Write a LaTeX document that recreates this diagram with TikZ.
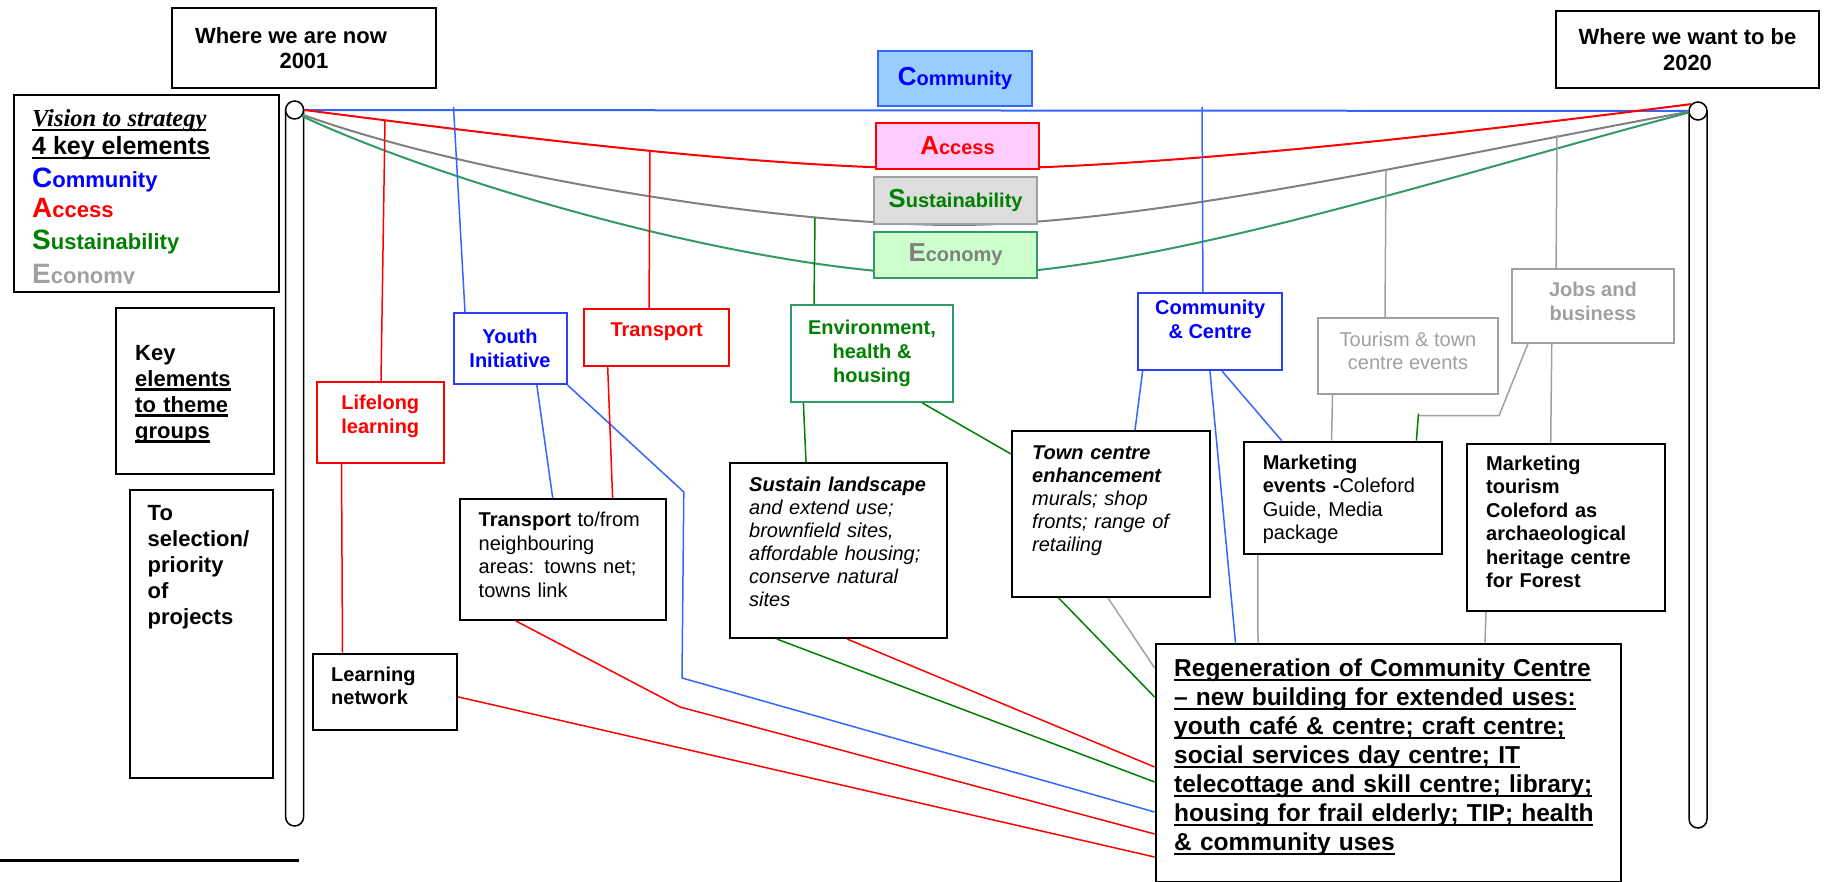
\documentclass[tikz,border=0pt]{standalone}
\usepackage{fontspec}
\setmainfont{Liberation Sans}
\newfontfamily\timesfont{Liberation Serif}
\definecolor{lblue}{HTML}{3366FF}
\definecolor{tblue}{HTML}{0000FF}
\definecolor{bblue}{HTML}{2A3FFF}
\definecolor{tred}{HTML}{FF0000}
\definecolor{tgreen}{HTML}{008000}
\definecolor{cgreen}{HTML}{339966}
\definecolor{cgray}{HTML}{808080}
\definecolor{lgray}{HTML}{A0A0A0}
\definecolor{fblue}{HTML}{99CCFF}
\definecolor{fpink}{HTML}{FFCCFF}
\definecolor{fgray}{HTML}{DDDDDD}
\definecolor{fgreen}{HTML}{CCFFCC}
\newcommand{\bigini}[2]{{\fontsize{#1}{#1}\selectfont #2}}
\newlength{\ulw}
\newcommand{\uln}[1]{\leavevmode\settowidth{\ulw}{#1}\rlap{#1}\rule[-4.5pt]{\ulw}{2.2pt}}

\begin{document}
\begin{tikzpicture}[x=1pt, y=-1pt,
  frame/.style 2 args={draw, line width=2pt, fill=white, anchor=north west, inner sep=0pt, minimum width=#1pt, minimum height=#2pt},
  theme/.style 2 args={draw, line width=2pt, fill=white, align=center, inner sep=0pt, minimum width=#1pt, minimum height=#2pt, font=\bfseries\fontsize{20}{24}\selectfont},
  txt/.style={anchor=base west, align=left, inner sep=0pt, text width=#1pt},
  post/.style={circle, draw, fill=white, line width=1.5pt, minimum size=18pt, inner sep=0pt},
  redln/.style={tred, line width=1.5pt},
  blueln/.style={lblue, line width=1.5pt},
  greenln/.style={tgreen, line width=1.5pt},
  grayln/.style={lgray, line width=1.5pt}]
\useasboundingbox (0,0) rectangle (1825,882);
% posts
\draw[line width=1.5pt, rounded corners=9pt] (285.6,110) -- (285.6,826) -- (303.6,826) -- (303.6,110);
\draw[line width=1.5pt, rounded corners=9pt] (1689,111) -- (1689,828) -- (1707,828) -- (1707,111);
\node[post] (lpost) at (294.6,110) {};
\node[post] (rpost) at (1698,111) {};
% ropes
\draw[blueln, line width=2pt] (lpost.east) -- (rpost.west);
\draw[redln, line width=2pt] (lpost.east) .. controls (500,135) and (760,169) .. (958,169) .. controls (1150,169) and (1450,135) .. (rpost.135);
\draw[cgray, line width=2pt] (lpost.-30) .. controls (470,175) and (780,225) .. (955,225) .. controls (1150,225) and (1450,155) .. (rpost.185);
\draw[cgreen, line width=2pt] (lpost.-40) .. controls (450,185) and (760,275) .. (955,275) .. controls (1150,275) and (1450,175) .. (rpost.190);
% top boxes
\node[frame={264}{80}, align=center, font=\bfseries\fontsize{22}{25}\selectfont] (now) at (171,7) {Where we are now\hspace*{26pt}\\2001};
\node[frame={263}{77}, align=center, font=\bfseries\fontsize{22}{26}\selectfont] (want) at (1555,10) {Where we want to be\\2020};
% legend
\node[frame={265}{197}] (legend) at (13,94) {};
\begin{scope}
\clip (legend.north west) rectangle ([yshift=9pt]legend.south east);
\node[anchor=base west, inner sep=0pt, font=\timesfont\bfseries\itshape\fontsize{24.5}{25}\selectfont] (leg-a) at (32,127) {\uln{Vision to strategy}};
\node[anchor=base west, inner sep=0pt, font=\bfseries\fontsize{25}{25}\selectfont] (leg-b) at (32,155) {\uln{4 key elements}};
\node[anchor=base west, inner sep=0pt, font=\bfseries\fontsize{22}{22}\selectfont, text=tblue] (leg-c) at (32,188) {\bigini{28}{C}ommunity};
\node[anchor=base west, inner sep=0pt, font=\bfseries\fontsize{22}{22}\selectfont, text=tred] (leg-d) at (32,218) {\bigini{28}{A}ccess};
\node[anchor=base west, inner sep=0pt, font=\bfseries\fontsize{22}{22}\selectfont, text=tgreen] (leg-e) at (32,250) {\bigini{28}{S}ustainability};
\node[anchor=base west, inner sep=0pt, font=\bfseries\fontsize{22}{22}\selectfont, text=lgray] (leg-f) at (32,284) {\bigini{28}{E}conomy};
\end{scope}
% left boxes
\node[frame={158}{166}] (keyel) at (115,307) {};
\node[txt=140, font=\bfseries\fontsize{22}{26}\selectfont] (keyel-t) at ([shift={(20,53)}]keyel.north west) {Key\\\uln{elements}\\\uln{to theme}\\\uln{groups}};
\node[frame={143}{288}] (tosel) at (128.5,489) {};
\node[txt=125, font=\bfseries\fontsize{22}{26}\selectfont] (tosel-t) at ([shift={(19,31)}]tosel.north west) {To\\selection/\\priority\\of\\projects};
% key elements
\node[theme={154}{55}, fill=fblue, draw=lblue, text=tblue] (tcomm) at (955,78.5) {\bigini{26}{C}ommunity};
\node[theme={163}{46}, fill=fpink, draw=tred, text=tred] (tacc) at (957.5,146) {\bigini{26}{A}ccess};
\node[theme={163}{47}, fill=fgray, draw=lgray, text=tgreen] (tsus) at (955.5,200.5) {\bigini{26}{S}ustainability};
\node[theme={163}{46}, fill=fgreen, draw=cgreen, text=cgray] (teco) at (955.5,255) {\bigini{26}{E}conomy};
% theme groups
\node[theme={126.6}{81}, draw=tred, text=tred, text depth=16pt] (life) at (380.3,422.5) {Lifelong\\learning};
\node[theme={113}{71}, draw=bblue, text=tblue] (youth) at (510,348.5) {Youth\\Initiative};
\node[theme={144.6}{57}, draw=tred, text=tred, text depth=15pt] (tpt) at (656.7,337.5) {Transport};
\node[theme={162}{97}, draw=cgreen, text=tgreen] (env) at (872,353.5) {Environment,\\health \&\\housing};
\node[theme={144.5}{77}, draw=bblue, text=tblue] (cc) at (1210.2,331.5) {Community\\\& Centre\\\mbox{}};
\node[theme={180}{76}, draw=lgray, text=lgray, font=\fontsize{20}{23}\selectfont, text depth=10pt] (tour) at (1408,356) {Tourism \& town\\centre events};
\node[theme={162.3}{74}, draw=lgray, text=lgray, text depth=9pt] (jobs) at (1592.9,306) {Jobs and\\business};
% projects
\node[frame={206.3}{121}] (tptto) at (458.7,498) {};
\node[txt=200, font=\fontsize{20}{23.7}\selectfont] (tptto-t) at ([shift={(19.8,28.5)}]tptto.north west) {\textbf{Transport} to/from\\neighbouring\\areas: towns net;\\towns link};
\node[frame={144}{76.3}] (learn) at (312,652.7) {};
\node[txt=140, font=\bfseries\fontsize{20}{23}\selectfont] (learn-t) at ([shift={(19,29)}]learn.north west) {Learning\\network};
\node[frame={217.1}{175}] (sust) at (729.3,462) {};
\node[txt=210, font=\itshape\fontsize{20}{23}\selectfont] (sust-t) at ([shift={(19.7,29.5)}]sust.north west) {\textbf{Sustain landscape}\\and extend use;\\brownfield sites,\\affordable housing;\\conserve natural\\sites};
\node[frame={198}{166}] (town) at (1011,430) {};
\node[txt=190, font=\itshape\fontsize{20}{23}\selectfont] (town-t) at ([shift={(21,29.5)}]town.north west) {\textbf{Town centre}\\\textbf{enhancement}\\murals; shop\\fronts; range of\\retailing};
\node[frame={198.4}{112.3}] (mevt) at (1242.6,440.7) {};
\node[txt=190, font=\fontsize{20}{23.3}\selectfont] (mevt-t) at ([shift={(20,28.8)}]mevt.north west) {\textbf{Marketing}\\\textbf{events -}Coleford\\Guide, Media\\package};
\node[frame={198}{167}] (mtour) at (1466,443) {};
\node[txt=190, font=\bfseries\fontsize{20}{23.4}\selectfont] (mtour-t) at ([shift={(20,27.5)}]mtour.north west) {Marketing\\tourism\\Coleford as\\archaeological\\heritage centre\\for Forest};
\node[frame={465.4}{238}] (regen) at (1154.6,642.7) {};
\node[txt=460, font=\bfseries\fontsize{24.5}{29}\selectfont] (regen-t) at ([shift={(19.4,34)}]regen.north west) {\uln{Regeneration of Community Centre}\\\uln{– new building for extended uses:}\\\uln{youth café \& centre; craft centre;}\\\uln{social services day centre; IT}\\\uln{telecottage and skill centre; library;}\\\uln{housing for frail elderly; TIP; health}\\\uln{\& community uses}};
% links
\coordinate (r-life) at (385,120);
\coordinate (b-youth) at (453.5,107);
\coordinate (r-tpt) at (650,151);
\coordinate (g-env) at (815,218);
\coordinate (b-cc) at (1202,107);
\coordinate (k-tour) at (1386,170);
\coordinate (k-jobs) at (1557,135);
\coordinate (jm) at (1418.4,415.7);
\draw[redln] (r-life) -- ([xshift=65pt]life.north west);
\draw[redln] ([xshift=25.5pt]life.south west) -- ([xshift=30.5pt]learn.north west);
\draw[redln] ([yshift=-5pt]learn.east) -- ([yshift=-214.3pt]regen.north west);
\draw[blueln] (b-youth) -- ([xshift=12.5pt]youth.north west);
\draw[blueln] ([xshift=84.3pt]youth.south west) -- ([xshift=94pt]tptto.north west);
\draw[blueln] (youth.south east) -- (683.8,492) -- (682,678) -- ([yshift=-169.3pt]regen.north west);
\draw[redln] (r-tpt) -- ([xshift=65.6pt]tpt.north west);
\draw[redln] ([xshift=24.3pt]tpt.south west) -- ([xshift=153.9pt]tptto.north west);
\draw[redln] ([xshift=57.3pt]tptto.south west) -- (680,707) -- ([yshift=-191.3pt]regen.north west);
\draw[greenln] (g-env) -- ([xshift=24pt]env.north west);
\draw[greenln] ([xshift=13.4pt]env.south west) -- ([xshift=76.7pt]sust.north west);
\draw[greenln] ([xshift=132.4pt]env.south west) -- ([yshift=-24pt]town.north west);
\draw[redln] ([xshift=117.7pt]sust.south west) -- ([yshift=-124.3pt]regen.north west);
\draw[greenln] ([xshift=47.4pt]sust.south west) -- ([yshift=-139.3pt]regen.north west);
\draw[greenln] ([xshift=47.7pt]town.south west) -- ([yshift=-54.3pt]regen.north west);
\draw[grayln] ([xshift=97pt]town.south west) -- ([yshift=-25.3pt]regen.north west);
\draw[blueln] (b-cc) -- ([xshift=66pt]cc.north west);
\draw[blueln] ([xshift=5.7pt]cc.south west) -- ([xshift=124pt]town.north west);
\draw[blueln] ([xshift=73pt]cc.south west) -- ([xshift=80.9pt]regen.north west);
\draw[blueln] ([xshift=85pt]cc.south west) -- ([xshift=39.1pt]mevt.north west);
\draw[grayln] (k-tour) -- ([xshift=68pt]tour.north west);
\draw[grayln] ([xshift=15.5pt]tour.south west) -- ([xshift=88.9pt]mevt.north west);
\draw[grayln] (k-jobs) -- ([xshift=45.3pt]jobs.north west);
\draw[grayln] ([xshift=17.1pt]jobs.south west) -- (1499,415.7) -- (jm);
\draw[greenln] ([yshift=2pt]jm) -- ([xshift=173.8pt]mevt.north west);
\draw[grayln] ([xshift=41pt]jobs.south west) -- ([xshift=84.7pt]mtour.north west);
\draw[grayln] ([xshift=15.2pt]mevt.south west) -- ([xshift=103.4pt]regen.north west);
\draw[grayln] ([xshift=20pt]mtour.south west) -- ([xshift=330.4pt]regen.north west);
% rule
\draw[line width=3pt] (0,860) -- (298.5,860);
\end{tikzpicture}
\end{document}
